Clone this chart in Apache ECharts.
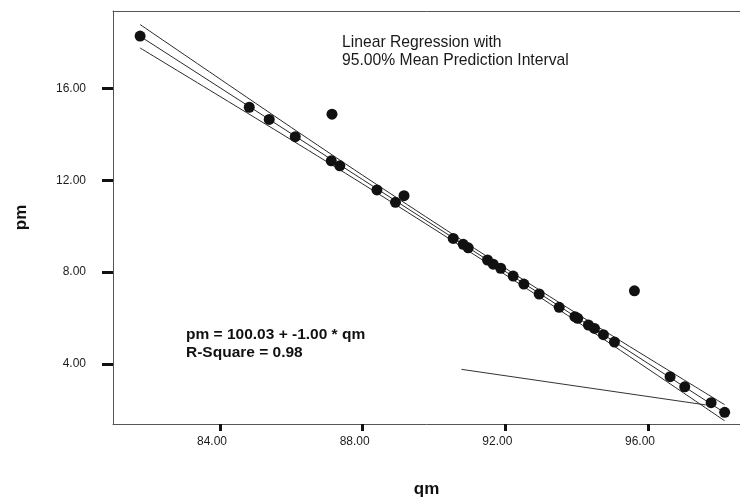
<!DOCTYPE html>
<html>
<head>
<meta charset="utf-8">
<script src="https://cdn.jsdelivr.net/npm/echarts@6/dist/echarts.min.js"></script>
<style>
  html, body { margin: 0; padding: 0; background: #ffffff; }
  #chart { width: 740px; height: 497px; }
</style>
</head>
<body>
<div id="chart"></div>
<script>
// Observed quota (qm) and price (pm) pairs
const qmValues = [81.76, 84.82, 85.38, 86.11, 87.14, 87.12, 87.36, 88.40, 88.92, 89.16,
                  90.54, 90.82, 90.96, 91.50, 91.66, 91.87, 92.22, 92.52, 92.95, 93.51,
                  95.62, 93.95, 94.03, 94.33, 94.50, 94.75, 95.06, 96.62, 97.03, 97.77, 98.15];
const pmValues = [18.28, 15.18, 14.65, 13.90, 14.88, 12.85, 12.63, 11.58, 11.04, 11.33,
                  9.47, 9.21, 9.06, 8.53, 8.35, 8.17, 7.83, 7.48, 7.05, 6.47,
                  7.19, 6.06, 5.99, 5.70, 5.55, 5.28, 4.96, 3.45, 3.01, 2.32, 1.90];

// Fitted line pm = 100.03 - 1.00 * qm and its 95% mean prediction band
const bandQm    = [81.76, 84.00, 86.00, 88.00, 90.00, 91.50, 93.00, 95.00, 97.00, 98.15];
const fitPm     = [18.27, 16.03, 14.03, 12.03, 10.03, 8.53, 7.03, 5.03, 3.03, 1.88];
const upperPm   = [18.78, 16.41, 14.30, 12.22, 10.18, 8.67, 7.18, 5.23, 3.32, 2.23];
const lowerPm   = [17.76, 15.65, 13.76, 11.84, 9.88, 8.39, 6.88, 4.83, 2.74, 1.53];

// Hand-drawn pointer line near the lower right
const pointerQm = [90.77, 97.62];
const pointerPm = [3.77, 2.22];

// Axis tick values
const qmTicks = [84, 88, 92, 96];
const pmTicks = [4, 8, 12, 16];

const pairs = (xs, ys) => xs.map((x, i) => [x, ys[i]]);

const chart = echarts.init(document.getElementById('chart'), null, { renderer: 'canvas' });

const thinLine = { color: '#2a2a2a', width: 1 };
const frameLine = { color: '#555555', width: 1 };
const QM_MIN = 81.0, QM_MAX = 98.58;

chart.setOption({
  backgroundColor: '#ffffff',
  animation: false,
  grid: {
    left: 113, top: 11, right: 0, bottom: 73,
    outerBoundsMode: 'none',
    containLabel: false,
    show: false
  },
  xAxis: [
    {
      type: 'value',
      min: QM_MIN, max: QM_MAX,
      name: 'qm',
      nameLocation: 'middle',
      nameGap: 57,
      nameTextStyle: { fontFamily: 'Liberation Sans', fontWeight: 'bold', fontSize: 17, color: '#111' },
      axisLine: { show: true, onZero: false, lineStyle: frameLine },
      axisTick: { show: true, customValues: qmTicks, length: 7, lineStyle: { color: '#111', width: 3 } },
      axisLabel: {
        customValues: qmTicks,
        formatter: v => v.toFixed(2),
        fontFamily: 'Liberation Sans', fontSize: 12, color: '#1c1c1c',
        margin: 12, padding: [0, 16, 0, 0]
      },
      splitLine: { show: false }
    },
    {
      // top frame edge
      type: 'value', position: 'top',
      min: QM_MIN, max: QM_MAX,
      axisLine: { show: true, onZero: false, lineStyle: frameLine },
      axisTick: { show: false }, axisLabel: { show: false }, splitLine: { show: false }
    }
  ],
  yAxis: {
    type: 'value',
    min: 1.39, max: 19.37,
    name: 'pm',
    nameLocation: 'middle',
    nameGap: 83,
    nameRotate: 90,
    nameTextStyle: { fontFamily: 'Liberation Sans', fontWeight: 'bold', fontSize: 17, color: '#111' },
    axisLine: { show: true, onZero: false, lineStyle: frameLine },
    axisTick: { show: true, customValues: pmTicks, length: 11, lineStyle: { color: '#111', width: 3 } },
    axisLabel: {
      customValues: pmTicks,
      formatter: v => v.toFixed(2),
      fontFamily: 'Liberation Sans', fontSize: 12, color: '#1c1c1c',
      margin: 27, padding: [4, 0, 0, 0]
    },
    splitLine: { show: false }
  },
  series: [
    { type: 'line', data: pairs(bandQm, upperPm), smooth: 0.3, symbol: 'none', lineStyle: thinLine, z: 2, silent: true },
    { type: 'line', data: pairs(bandQm, fitPm), symbol: 'none', lineStyle: thinLine, z: 2, silent: true },
    { type: 'line', data: pairs(bandQm, lowerPm), smooth: 0.3, symbol: 'none', lineStyle: thinLine, z: 2, silent: true },
    { type: 'line', data: pairs(pointerQm, pointerPm), symbol: 'none', lineStyle: { color: '#333', width: 1 }, z: 2, silent: true },
    {
      type: 'scatter',
      data: pairs(qmValues, pmValues),
      symbol: 'circle',
      symbolSize: 11,
      itemStyle: { color: '#111111', opacity: 1 },
      z: 3
    }
  ],
  graphic: [
    { type: 'text', left: 342, top: 35, style: { text: 'Linear Regression with', font: '15.7px "Liberation Sans"', fill: '#1a1a1a' } },
    { type: 'text', left: 342, top: 53, style: { text: '95.00% Mean Prediction Interval', font: '15.7px "Liberation Sans"', fill: '#1a1a1a' } },
    { type: 'text', left: 186, top: 327, style: { text: 'pm = 100.03 + -1.00 * qm', font: 'bold 15.5px "Liberation Sans"', fill: '#111' } },
    { type: 'text', left: 186, top: 345, style: { text: 'R-Square = 0.98', font: 'bold 15.5px "Liberation Sans"', fill: '#111' } }
  ]
});
</script>
</body>
</html>
